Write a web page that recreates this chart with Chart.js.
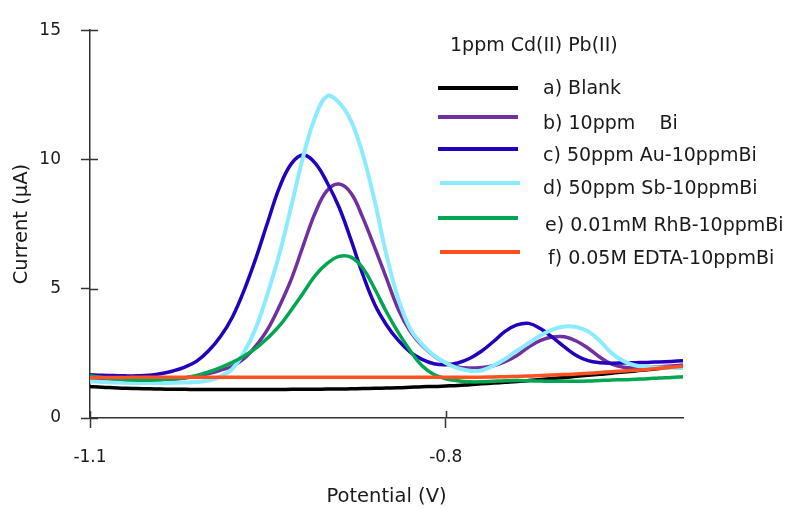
<!DOCTYPE html>
<html>
<head>
<meta charset="utf-8">
<script src="https://cdn.jsdelivr.net/npm/chart.js@4"></script>
<style>
  body { margin: 0; background: #fff; }
</style>
</head>
<body>
<canvas id="voltammogram" width="787" height="509"></canvas>
<script>
// Potential (V), step 0.01
const potential = [
  -1.10, -1.09, -1.08, -1.07, -1.06, -1.05, -1.04, -1.03, -1.02, -1.01,
  -1.00, -0.99, -0.98, -0.97, -0.96, -0.95, -0.94, -0.93, -0.92, -0.91,
  -0.90, -0.89, -0.88, -0.87, -0.86, -0.85, -0.84, -0.83, -0.82, -0.81,
  -0.80, -0.79, -0.78, -0.77, -0.76, -0.75, -0.74, -0.73, -0.72, -0.71,
  -0.70, -0.69, -0.68, -0.67, -0.66, -0.65, -0.64, -0.63, -0.62, -0.61,
  -0.60
];

// Current (uA) for each electrode
const blank = [
  1.22, 1.19, 1.17, 1.15, 1.14, 1.13, 1.12, 1.11, 1.11, 1.10,
  1.10, 1.10, 1.10, 1.10, 1.10, 1.10, 1.10, 1.11, 1.11, 1.11,
  1.12, 1.12, 1.13, 1.14, 1.15, 1.16, 1.17, 1.19, 1.21, 1.22,
  1.24, 1.26, 1.29, 1.32, 1.35, 1.38, 1.41, 1.45, 1.49, 1.53,
  1.57, 1.61, 1.65, 1.69, 1.73, 1.78, 1.82, 1.87, 1.91, 1.96,
  2.00
];
const bi10 = [
  1.55, 1.52, 1.50, 1.48, 1.47, 1.47, 1.48, 1.50, 1.55, 1.62,
  1.72, 1.85, 2.00, 2.30, 2.80, 3.45, 4.35, 5.40, 6.70, 7.95,
  8.80, 9.05, 8.70, 7.75, 6.60, 5.40, 4.20, 3.35, 2.80, 2.40,
  2.12, 1.97, 1.93, 1.95, 2.02, 2.18, 2.42, 2.75, 3.00, 3.13,
  3.14, 2.98, 2.70, 2.35, 2.08, 1.96, 1.93, 1.95, 1.98, 2.01,
  2.05
];
const au50 = [
  1.67, 1.65, 1.64, 1.63, 1.63, 1.65, 1.72, 1.82, 1.97, 2.20,
  2.60, 3.15, 3.90, 4.95, 6.20, 7.60, 8.95, 9.85, 10.17, 9.85,
  9.10, 8.15, 6.90, 5.55, 4.40, 3.60, 3.00, 2.55, 2.27, 2.10,
  2.06, 2.13, 2.30, 2.58, 2.95, 3.35, 3.60, 3.66, 3.45, 3.12,
  2.75, 2.42, 2.22, 2.14, 2.12, 2.13, 2.14, 2.15, 2.17, 2.19,
  2.21
];
const sb50 = [
  1.42, 1.39, 1.37, 1.36, 1.35, 1.35, 1.35, 1.36, 1.37, 1.39,
  1.45, 1.60, 1.90, 2.55, 3.50, 4.85, 6.40, 8.25, 10.15, 11.65,
  12.45, 12.20, 11.50, 10.20, 8.40, 6.30, 4.60, 3.45, 2.85, 2.42,
  2.13, 1.93, 1.83, 1.84, 2.02, 2.28, 2.60, 2.90, 3.20, 3.42,
  3.54, 3.52, 3.35, 2.98, 2.50, 2.20, 2.03, 1.97, 1.95, 1.94,
  1.93
];
const rhb = [
  1.63, 1.57, 1.52, 1.48, 1.46, 1.46, 1.48, 1.52, 1.56, 1.65,
  1.78, 1.95, 2.15, 2.40, 2.70, 3.10, 3.58, 4.20, 4.85, 5.52,
  5.98, 6.25, 6.22, 5.80, 5.00, 4.10, 3.30, 2.60, 2.02, 1.68,
  1.52, 1.44, 1.40, 1.40, 1.42, 1.44, 1.45, 1.44, 1.43, 1.42,
  1.42, 1.42, 1.43, 1.45, 1.47, 1.48, 1.50, 1.52, 1.55, 1.57,
  1.60
];
const edta = [
  1.56, 1.57, 1.57, 1.57, 1.58, 1.58, 1.58, 1.58, 1.58, 1.58,
  1.58, 1.58, 1.58, 1.58, 1.58, 1.58, 1.58, 1.58, 1.58, 1.58,
  1.58, 1.58, 1.58, 1.58, 1.58, 1.58, 1.58, 1.58, 1.58, 1.58,
  1.58, 1.58, 1.58, 1.58, 1.59, 1.60, 1.61, 1.62, 1.64, 1.66,
  1.68, 1.70, 1.73, 1.76, 1.79, 1.82, 1.85, 1.88, 1.92, 1.96,
  2.00
];

const labels = [
  'a) Blank',
  'b) 10ppm    Bi',
  'c) 50ppm Au-10ppmBi',
  'd) 50ppm Sb-10ppmBi',
  'e) 0.01mM RhB-10ppmBi',
  'f) 0.05M EDTA-10ppmBi'
];
const legendTitle = '1ppm Cd(II) Pb(II)';
const xTicks = [-1.1, -0.8];

const FONT = 'DejaVu Sans';
const INK = '#1a1a1a';
const AXIS = '#333333';

const toPoints = (vals) => potential.map((x, i) => ({ x: x, y: vals[i] }));

const series = [
  { data: blank, color: '#000000', order: 6 },
  { data: bi10,  color: '#7030A0', order: 5 },
  { data: au50,  color: '#2300BE', order: 4 },
  { data: sb50,  color: '#8CECFF', order: 3 },
  { data: rhb,   color: '#00A651', order: 2 },
  { data: edta,  color: '#FF5020', order: 1 }
];

// legend drawn by hand: title then a line + label per row
const legendRows = [
  { lineY: 88,  textY: 89,  lx: 438, tx: 543 },
  { lineY: 117, textY: 124, lx: 438, tx: 543 },
  { lineY: 149, textY: 156, lx: 438, tx: 543 },
  { lineY: 183, textY: 189, lx: 440, tx: 543 },
  { lineY: 218, textY: 226, lx: 438, tx: 545 },
  { lineY: 252, textY: 259, lx: 440, tx: 548 }
];

const sideLegend = {
  id: 'sideLegend',
  afterDraw(chart) {
    const ctx = chart.ctx;
    ctx.save();
    ctx.font = '19px "' + FONT + '"';
    ctx.fillStyle = INK;
    ctx.textBaseline = 'middle';
    ctx.textAlign = 'left';
    ctx.fillText(legendTitle, 450, 46);
    chart.data.datasets.forEach((ds, i) => {
      const r = legendRows[i];
      ctx.strokeStyle = ds.borderColor;
      ctx.lineWidth = 4;
      ctx.beginPath();
      ctx.moveTo(r.lx, r.lineY);
      ctx.lineTo(r.lx + 80, r.lineY);
      ctx.stroke();
      ctx.fillStyle = INK;
      ctx.fillText(ds.label, r.tx, r.textY);
    });
    ctx.restore();
  }
};

// tick marks also poke a little into the plot area
const innerTicks = {
  id: 'innerTicks',
  afterDraw(chart) {
    const ctx = chart.ctx;
    const { left, bottom } = chart.chartArea;
    const xs = chart.scales.x, ys = chart.scales.y;
    ctx.save();
    ctx.strokeStyle = AXIS;
    ctx.lineWidth = 1.5;
    ctx.beginPath();
    ys.ticks.forEach(t => {
      const py = Math.round(ys.getPixelForValue(t.value)) + 0.5;
      ctx.moveTo(left, py);
      ctx.lineTo(left + 8, py);
    });
    xs.ticks.forEach(t => {
      const px = Math.round(xs.getPixelForValue(t.value)) + 0.5;
      ctx.moveTo(px, bottom);
      ctx.lineTo(px, bottom - 7);
    });
    ctx.stroke();
    ctx.restore();
  }
};

new Chart(document.getElementById('voltammogram'), {
  type: 'line',
  data: {
    datasets: series.map((s, i) => ({
      label: labels[i],
      data: toPoints(s.data),
      borderColor: s.color,
      backgroundColor: s.color,
      borderWidth: i === 3 ? 4 : 3.5,
      pointRadius: 0,
      tension: 0.4,
      order: s.order
    }))
  },
  options: {
    responsive: false,
    animation: false,
    events: [],
    layout: { padding: { top: 27, right: 104, left: 0, bottom: 0 } },
    plugins: {
      legend: { display: false },
      tooltip: { enabled: false }
    },
    scales: {
      x: {
        type: 'linear',
        min: -1.1,
        max: -0.6,
        afterBuildTicks: (s) => { s.ticks = xTicks.map(v => ({ value: v })); },
        afterFit: (s) => { s.height = 91; },
        ticks: {
          padding: 19,
          color: INK,
          font: { family: FONT, size: 17 },
          callback: (v) => v.toFixed(1)
        },
        grid: { drawOnChartArea: false, tickLength: 10, tickColor: AXIS, tickWidth: 1.5 },
        border: { color: AXIS, width: 1.5 },
        title: {
          display: true,
          text: 'Potential (V)',
          color: INK,
          font: { family: FONT, size: 19.5 },
          padding: { top: 0, bottom: 0 }
        }
      },
      y: {
        min: 0,
        max: 15,
        afterFit: (s) => { s.width = 90; },
        ticks: {
          stepSize: 5,
          padding: 20,
          color: INK,
          font: { family: FONT, size: 17 }
        },
        grid: { drawOnChartArea: false, tickLength: 9, tickColor: AXIS, tickWidth: 1.5 },
        border: { color: AXIS, width: 1.5 },
        title: {
          display: true,
          text: 'Current (μA)',
          color: INK,
          font: { family: FONT, size: 19.5 },
          padding: { top: 10, bottom: 0 }
        }
      }
    }
  },
  plugins: [sideLegend, innerTicks]
});
</script>
</body>
</html>
